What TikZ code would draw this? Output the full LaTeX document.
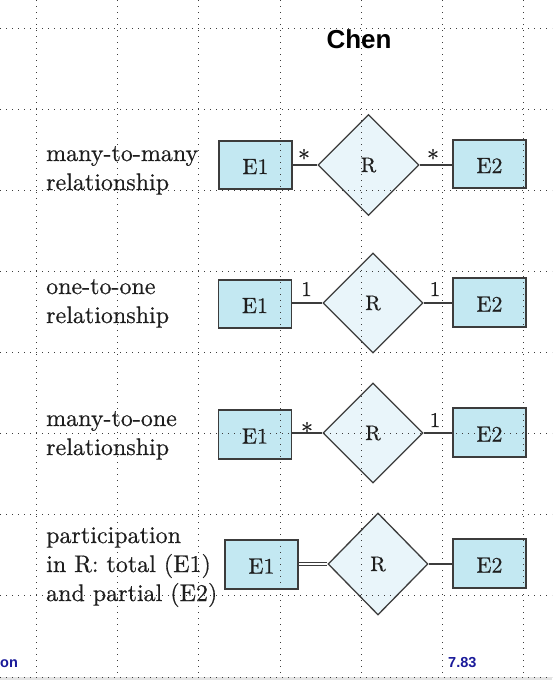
\documentclass[tikz,border=0pt]{standalone}
\usepackage{fontspec}
\setmainfont{lmroman10-regular}[Extension=.otf, FakeBold=0.5]
\setsansfont{Liberation Sans}
\usetikzlibrary{shapes.geometric}
\definecolor{entfill}{RGB}{195,232,242}
\definecolor{relfill}{RGB}{233,245,250}
\definecolor{edgec}{RGB}{60,60,60}
\definecolor{navy}{RGB}{26,26,154}
\definecolor{gridc}{RGB}{60,60,60}
\definecolor{txt}{RGB}{30,30,30}
\begin{document}
\begin{tikzpicture}[x=1pt,y=-1pt,
  ent/.style={draw=edgec, fill=entfill, line width=1.3pt, rectangle,
    minimum width=73pt, minimum height=48pt, inner sep=0pt, text=txt,
    text height=18pt, text depth=0pt, font=\fontsize{22}{22}\selectfont},
  rel/.style={draw=edgec, fill=relfill, line width=1.3pt, diamond, aspect=1,
    minimum width=101pt, minimum height=101pt, inner sep=0pt, text=txt,
    text height=14pt, text depth=0pt, font=\fontsize{21}{21}\selectfont},
  conn/.style={draw=edgec, line width=1.3pt},
  dconn/.style={draw=edgec, line width=0.9pt},
  card/.style={anchor=base, inner sep=0pt, text=txt, font=\fontsize{21}{21}\selectfont},
  star/.style={card, font=\fontsize{24}{24}\selectfont},
  lbl/.style={anchor=base west, inner sep=0pt, text=txt, font=\fontsize{24}{29}\selectfont},
  gridline/.style={gridc, line width=1pt, dash pattern=on 1pt off 5pt},
  foot/.style={anchor=base, inner sep=0pt, text=navy, font=\sffamily\bfseries\fontsize{14.5}{14.5}\selectfont}]
\useasboundingbox (0,0) rectangle (552,680);
\fill[white] (0,0) rectangle (552,680);
\fill[gray!22] (0,677) rectangle (552,680);

% title
\node[anchor=base, inner sep=0pt, font=\sffamily\bfseries\fontsize{26}{26}\selectfont] (title) at (359,48) {Chen};

% row 1: many-to-many
\node[lbl] (l1a) at (46,161) {many-to-many};
\node[lbl] (l1b) at (46,190) {relationship};
\node[ent] (a1) at (255.5,165) {E1};
\node[rel] (r1) at (368.5,165) {R};
\node[ent] (b1) at (489.5,164) {E2};
\draw[conn] (a1.east) -- (r1.west);
\draw[conn] (r1.east) -- (b1.west |- r1.east);
\node[star] (c1a) at (304,167) {*};
\node[star] (c1b) at (433,167) {*};

% row 2: one-to-one
\node[lbl] (l2a) at (46,294) {one-to-one};
\node[lbl] (l2b) at (46,323) {relationship};
\node[ent] (a2) at (255,304) {E1};
\node[rel, minimum width=100pt, minimum height=100pt] (r2) at (373,303) {R};
\node[ent, minimum height=49pt] (b2) at (489.5,302.5) {E2};
\draw[conn] (a2.east |- r2.west) -- (r2.west);
\draw[conn] (r2.east) -- (b2.west |- r2.east);
\node[card] (c2a) at (306.5,296) {1};
\node[card] (c2b) at (435,296) {1};

% row 3: many-to-one
\node[lbl] (l3a) at (46,426) {many-to-one};
\node[lbl] (l3b) at (46,455) {relationship};
\node[ent, minimum height=49pt] (a3) at (255,434.5) {E1};
\node[rel, minimum width=100pt, minimum height=100pt] (r3) at (373,433) {R};
\node[ent, minimum height=49pt] (b3) at (489.5,432.5) {E2};
\draw[conn] (a3.east |- r3.west) -- (r3.west);
\draw[conn] (r3.east) -- (b3.west |- r3.east);
\node[star] (c3a) at (307,440) {*};
\node[card] (c3b) at (435,427) {1};

% row 4: participation
\node[lbl] (l4a) at (46,543) {participation};
\node[lbl] (l4b) at (46,572) {in R: total (E1)};
\node[lbl] (l4c) at (46,601) {and partial (E2)};
\node[ent, minimum height=49pt] (a4) at (261.5,564.5) {E1};
\node[rel, minimum width=100pt, minimum height=102pt] (r4) at (378,564) {R};
\node[ent, minimum height=49pt] (b4) at (489.5,563.5) {E2};
\coordinate (d4) at (a4.east |- r4.west);
\draw[dconn] ([yshift=-1.4pt]d4) -- ([yshift=-1.4pt]r4.west);
\draw[dconn] ([yshift=1.4pt]d4) -- ([yshift=1.4pt]r4.west);
\draw[conn] (r4.east) -- (b4.west |- r4.east);

% footer
\node[foot, anchor=base west] (fl) at (0,667) {on};
\node[foot, anchor=base west] (fr) at (448,667) {7.83};

% dotted grid (on top)
\foreach \gx in {36,117,198,280,361,442,523}
  \draw[gridline] (\gx,0) -- (\gx,677);
\foreach \gy in {28.5,109.5,190.5,271.5,352.5,433.5,514.5,595.5,677}
  \draw[gridline] (0,\gy) -- (552,\gy);
\end{tikzpicture}
\end{document}
